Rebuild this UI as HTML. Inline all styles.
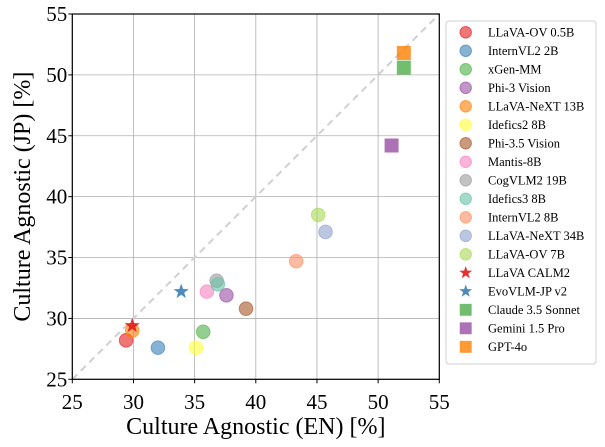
<!DOCTYPE html>
<html><head><meta charset="utf-8"><style>
body{margin:0;background:#fff;width:605px;height:442px;overflow:hidden}
svg{font-family:"Liberation Serif",serif}
</style></head><body>
<svg id="chart" width="605" height="442"></svg>
<script>
const names=["LLaVA-OV 0.5B","InternVL2 2B","xGen-MM","Phi-3 Vision","LLaVA-NeXT 13B","Idefics2 8B","Phi-3.5 Vision","Mantis-8B","CogVLM2 19B","Idefics3 8B","InternVL2 8B","LLaVA-NeXT 34B","LLaVA-OV 7B","LLaVA CALM2","EvoVLM-JP v2","Claude 3.5 Sonnet","Gemini 1.5 Pro","GPT-4o"];
const enValues=[29.4,32.0,35.7,37.6,29.9,35.1,39.2,36.0,36.8,36.9,43.3,45.7,45.1,29.9,33.9,52.1,51.1,52.1];
const jpValues=[28.2,27.6,28.9,31.9,29.0,27.6,30.8,32.2,33.1,32.8,34.7,37.1,38.5,29.4,32.2,50.6,44.2,51.8];
const markers=["o","o","o","o","o","o","o","o","o","o","o","o","o","*","*","s","s","s"];
const colors=["#e41a1c","#377eb8","#4daf4a","#984ea3","#ff7f00","#ffff33","#a65628","#f781bf","#999999","#66c2a5","#fc8d62","#8da0cb","#a6d854","#e41a1c","#377eb8","#4daf4a","#984ea3","#ff7f00"];
const ticks=[25,30,35,40,45,50,55];
const NS="http://www.w3.org/2000/svg";
const svg=document.getElementById('chart');
const L=72.3,R=439.3,T=14,B=379.3;
const xs=v=>L+(v-25)/30*(R-L);
const ys=v=>B-(v-25)/30*(B-T);
function mk(tag,attrs,parent){const e=document.createElementNS(NS,tag);for(const k in attrs)e.setAttribute(k,attrs[k]);(parent||svg).appendChild(e);return e;}
function starPts(cx,cy,r){let p=[];for(let i=0;i<10;i++){const a=-Math.PI/2+i*Math.PI/5;const rr=i%2?r*0.4:r;p.push((cx+rr*Math.cos(a)).toFixed(1)+","+(cy+rr*Math.sin(a)).toFixed(1));}return p.join(" ");}
function marker(m,cx,cy,c,scale){let e;
 if(m==="o")e=mk('circle',{cx:cx,cy:cy,r:6.8*scale,fill:c,'fill-opacity':0.6,stroke:c,'stroke-opacity':0.6});
 else if(m==="*")e=mk('polygon',{points:starPts(cx,cy,8*scale),fill:c,'fill-opacity':0.9});
 else e=mk('rect',{x:cx-7*scale,y:cy-7*scale,width:14*scale,height:14*scale,fill:c,'fill-opacity':0.8});
 return e;}
// grid
ticks.forEach(t=>{
 let g=mk('line',{x1:xs(t),x2:xs(t),y1:T,y2:B,stroke:'#b0b0b0','stroke-width':0.8});
 
 let h=mk('line',{x1:L,x2:R,y1:ys(t),y2:ys(t),stroke:'#b0b0b0','stroke-width':0.8});
 
 let tx=mk('text',{x:xs(t),y:409,'text-anchor':'middle','font-size':21});tx.textContent=t;
 
 let ty=mk('text',{x:L-5,y:ys(t)+7,'text-anchor':'end','font-size':21});ty.textContent=t;
 
 mk('line',{x1:xs(t),x2:xs(t),y1:B,y2:B+4,stroke:'#000'});mk('line',{x1:L-4,x2:L,y1:ys(t),y2:ys(t),stroke:'#000'});
});
let d=mk('line',{x1:xs(25),y1:ys(25),x2:xs(55),y2:ys(55),stroke:'#d0d0d0','stroke-width':2,'stroke-dasharray':'7,5'});

names.forEach((n,i)=>{const e=marker(markers[i],xs(enValues[i]),ys(jpValues[i]),colors[i],1);
 
 });
let fr=mk('rect',{x:L,y:T,width:R-L,height:B-T,fill:'none',stroke:'#000','stroke-width':1.2});

let xt=mk('text',{x:(L+R)/2,y:434,'text-anchor':'middle','font-size':24});xt.textContent="Culture Agnostic (EN) [%]";

let yt=mk('text',{x:0,y:0,'text-anchor':'middle','font-size':24,transform:`translate(30,${(T+B)/2}) rotate(-90)`});yt.textContent="Culture Agnostic (JP) [%]";

// legend
const lg=mk('g',{});
mk('rect',{x:446,y:21,width:150,height:343,rx:3,fill:'#fff',stroke:'#d0d0d0'},lg);
names.forEach((n,i)=>{const y=32.3+i*18.5;const g=mk('g',{},lg);
 
 const m=marker(markers[i],465.7,y,colors[i],0.85);g.appendChild(m);
 const t=mk('text',{x:488,y:y+4,'font-size':12.5},g);t.textContent=n;});
</script>
</body></html>
